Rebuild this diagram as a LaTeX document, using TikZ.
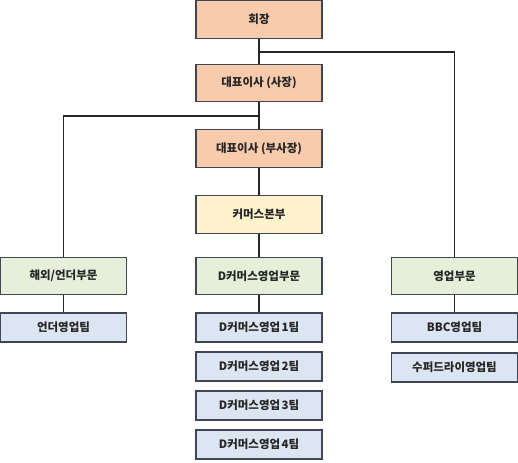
\documentclass[tikz,border=0pt]{standalone}
\usepackage{fontspec}
\newfontfamily\kr{Noto Sans CJK KR}
\definecolor{borderc}{HTML}{3E4753}
\definecolor{orangef}{HTML}{F8CBAD}
\definecolor{yellowf}{HTML}{FFF2CC}
\definecolor{greenf}{HTML}{E6EFDA}
\definecolor{bluef}{HTML}{DCE6F2}
\begin{document}
\begin{tikzpicture}[x=1pt,y=-1pt,
  box/.style={draw=borderc,line width=1.3pt,minimum width=126pt,inner sep=0pt,
    font=\kr\bfseries\fontsize{11.5}{13}\selectfont,text=black!85},
  big/.style={box,minimum height=37.5pt},
  small/.style={box,minimum height=29pt},
  conn/.style={draw=black!85,line width=1.2pt}]
\useasboundingbox (0,0) rectangle (518,462);
\node[big,fill=orangef] (ceo) at (259,19.5) {회장};
\node[big,fill=orangef] (pres) at (259,83) {대표이사 (사장)};
\node[big,fill=orangef] (vp) at (259,148.5) {대표이사 (부사장)};
\node[big,fill=yellowf] (comm) at (259,214.5) {커머스본부};
\node[big,fill=greenf] (ovs) at (63.5,276) {해외/언더부문};
\node[big,fill=greenf] (dcom) at (259,276) {D커머스영업부문};
\node[big,fill=greenf] (sales) at (454.5,276) {영업부문};
\node[small,fill=bluef] (under) at (63.5,327.5) {언더영업팀};
\node[small,fill=bluef] (d1) at (259,327.5) {D커머스영업\hspace{0.12em}1팀};
\node[small,fill=bluef] (d2) at (259,366.5) {D커머스영업\hspace{0.12em}2팀};
\node[small,fill=bluef] (d3) at (259,405.5) {D커머스영업\hspace{0.12em}3팀};
\node[small,fill=bluef] (d4) at (259,444.5) {D커머스영업\hspace{0.12em}4팀};
\node[small,fill=bluef] (bbc) at (454.5,327.5) {BBC영업팀};
\node[small,fill=bluef] (super) at (454.5,367.5) {수퍼드라이영업팀};
\coordinate (j1) at (259,52);
\coordinate (j2) at (259,116);
\draw[conn] (ceo) -- (pres);
\draw[conn] (j1) -| (sales);
\draw[conn] (pres) -- (vp);
\draw[conn] (j2) -| (ovs);
\draw[conn] (vp) -- (comm);
\draw[conn] (comm) -- (dcom);
\draw[conn] (dcom) -- (d1);
\draw[conn] (ovs) -- (under);
\draw[conn] (sales) -- (bbc);
\end{tikzpicture}
\end{document}
